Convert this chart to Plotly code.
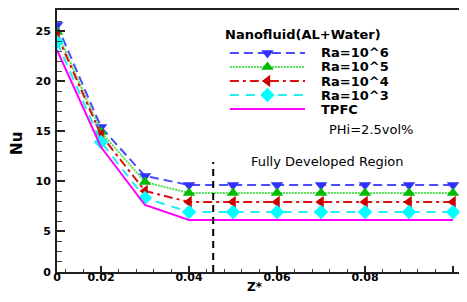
import plotly.graph_objects as go

# Data (x positions as drawn; first point labelled "0" on the axis)
z_star = [0.01, 0.02, 0.03, 0.04, 0.05, 0.06, 0.07, 0.08, 0.09, 0.10]
nu_ra6 = [25.6, 15.4, 10.5, 9.6, 9.6, 9.6, 9.6, 9.6, 9.6, 9.6]
nu_ra5 = [24.9, 14.9, 9.9, 8.8, 8.8, 8.8, 8.8, 8.8, 8.8, 8.8]
nu_ra4 = [24.6, 14.6, 9.0, 7.9, 7.9, 7.9, 7.9, 7.9, 7.9, 7.9]
nu_ra3 = [23.9, 13.9, 8.3, 6.9, 6.9, 6.9, 6.9, 6.9, 6.9, 6.9]
nu_tpfc = [23.1, 13.4, 7.6, 6.1, 6.1, 6.1, 6.1, 6.1, 6.1, 6.1]
series_names = ["Ra=10^6", "Ra=10^5", "Ra=10^4", "Ra=10^3", "TPFC"]
x_tickvals = [0.01, 0.02, 0.04, 0.06, 0.08, 0.1]
x_ticktext = ["0", "0.02", "0.04", "0.06", "0.08", "0.1"]
y_tickvals = [0.9, 5, 10, 15, 20, 25]
y_ticktext = ["0", "5", "10", "15", "20", "25"]
fd_boundary = 0.0455
fd_top = 11.9

BOLD = "DejaVu Sans, Arial, sans-serif"

styles = [
    dict(line=dict(color="#4a4aff", width=2, dash="9px,5px"),
         marker=dict(symbol="triangle-down", size=11, color="#3030ff")),
    dict(line=dict(color="#55dd55", width=2, dash="2px,1px"),
         marker=dict(symbol="triangle-up", size=11, color="#00bb00")),
    dict(line=dict(color="#dd1111", width=2, dash="9px,4px,3px,4px"),
         marker=dict(symbol="triangle-left", size=11, color="#cc0000")),
    dict(line=dict(color="#22eeee", width=2, dash="9px,7px"),
         marker=dict(symbol="diamond", size=11, color="#00ffff")),
    dict(line=dict(color="#ff00ff", width=2), marker=None),
]
series = [nu_ra6, nu_ra5, nu_ra4, nu_ra3, nu_tpfc]

fig = go.Figure()
for name, ys, st in zip(series_names, series, styles):
    if st["marker"] is None:
        fig.add_trace(go.Scatter(x=z_star, y=ys, name=name, mode="lines",
                                 line=st["line"], showlegend=False))
    else:
        fig.add_trace(go.Scatter(x=z_star, y=ys, name=name, mode="lines+markers",
                                 line=st["line"], marker=st["marker"], showlegend=False))

# Custom legend drawn on an overlay axis (paper-like 0..1 coordinates)
LEG_X0, LEG_X1, LEG_TEXT_X = 0.430, 0.617, 0.652
LEG_TOP, LEG_STEP = 0.836, 0.0535
annotations = []
for i, (name, st) in enumerate(zip(series_names, styles)):
    yy = LEG_TOP - i * LEG_STEP
    fig.add_trace(go.Scatter(x=[LEG_X0, LEG_X1], y=[yy, yy], mode="lines",
                             line=st["line"], xaxis="x2", yaxis="y2",
                             showlegend=False, hoverinfo="skip"))
    if st["marker"] is not None:
        fig.add_trace(go.Scatter(x=[(LEG_X0 + LEG_X1) / 2], y=[yy], mode="markers",
                                 marker=st["marker"], xaxis="x2", yaxis="y2",
                                 showlegend=False, hoverinfo="skip"))
    annotations.append(dict(text=name, x=LEG_TEXT_X, y=yy, xref="paper", yref="paper",
                            xanchor="left", yanchor="middle", showarrow=False,
                            font=dict(family=BOLD, size=13, weight="bold", color="black")))

annotations += [
    dict(text="Nanofluid(AL+Water)", x=0.413, y=0.905, xref="paper", yref="paper",
         xanchor="left", yanchor="middle", showarrow=False,
         font=dict(family=BOLD, size=13, weight="bold", color="black")),
    dict(text="Nu", x=-0.1, y=0.492, xref="paper", yref="paper", showarrow=False,
         xanchor="center", yanchor="middle",
         textangle=-90, font=dict(family=BOLD, size=15, weight="bold", color="black")),
    dict(text="Z*", x=0.4925, y=-0.057, xref="paper", yref="paper", showarrow=False,
         xanchor="center", yanchor="middle",
         font=dict(family=BOLD, size=12, weight="bold", color="black")),
    dict(text="PHi=2.5vol%", x=0.781, y=0.542, xref="paper", yref="paper",
         xanchor="center", yanchor="middle",
         showarrow=False, font=dict(family=BOLD, size=13, color="black")),
    dict(text="Fully Developed Region", x=0.672, y=0.42, xref="paper", yref="paper",
         xanchor="center", yanchor="middle",
         showarrow=False, font=dict(family=BOLD, size=13, color="black")),
]

fig.add_shape(type="line", x0=fd_boundary, x1=fd_boundary, y0=0.9, y1=fd_top,
              xref="x", yref="y", line=dict(color="black", width=2, dash="7px,5px"))

fig.update_layout(
    width=451, height=286,
    margin=dict(l=49, r=0, t=2, b=22),
    paper_bgcolor="white", plot_bgcolor="white",
    font=dict(family=BOLD, color="black"),
    showlegend=False,
    xaxis=dict(range=[0.01, 0.10136], showgrid=False, zeroline=False,
               showline=True, linecolor="#222", linewidth=2, mirror=True,
               ticks="inside", ticklen=6, tickwidth=2, tickcolor="#222",
               tickvals=x_tickvals, ticktext=x_ticktext,
               tickfont=dict(family=BOLD, size=11, weight="bold"),
               ticklabelstandoff=-6,
               minor=dict(ticks="inside", ticklen=3, tickwidth=1, tickcolor="#444",
                          tick0=0.02, dtick=0.004)),
    yaxis=dict(range=[0.9, 27.1], showgrid=False, zeroline=False,
               showline=True, linecolor="#222", linewidth=2,
               ticks="inside", ticklen=8, tickwidth=2, tickcolor="#222",
               tickvals=y_tickvals, ticktext=y_ticktext,
               tickfont=dict(family=BOLD, size=11, weight="bold"),
               ticklabelstandoff=2,
               minor=dict(ticks="inside", ticklen=5, tickwidth=1, tickcolor="#444",
                          tick0=0, dtick=1)),
    xaxis2=dict(range=[0, 1], overlaying="x", anchor="y2", visible=False, fixedrange=True),
    yaxis2=dict(range=[0, 1], overlaying="y", anchor="x2", visible=False, fixedrange=True),
    annotations=annotations,
)

fig.write_html("out.html")
